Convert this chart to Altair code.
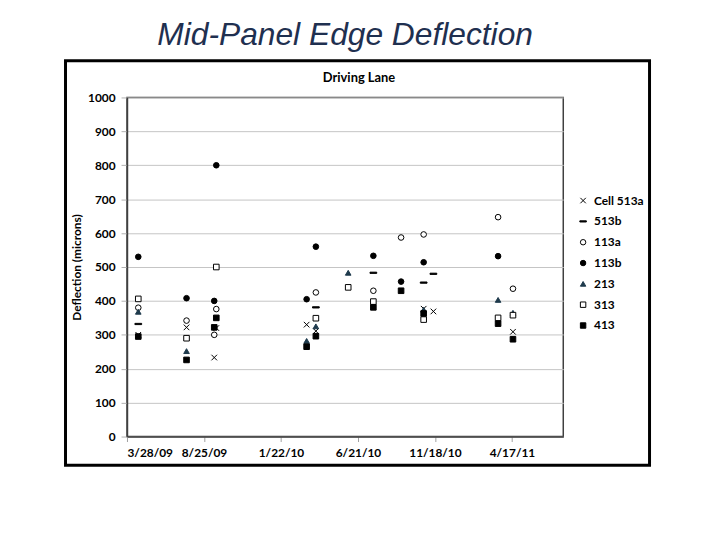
import altair as alt
import pandas as pd

# ---- data ----
series_names = ["Cell 513a", "513b", "113a", "113b", "213", "313", "413"]

s513a_dates = ["2009-04-19", "2009-07-22", "2009-09-18", "2009-09-14", "2010-03-13",
               "2010-03-31", "2010-10-27", "2010-11-15", "2011-04-19"]
s513a_vals = [300, 322, 320, 233, 330, 311, 377, 369, 309]

s513b_dates = ["2009-04-19", "2010-03-31", "2010-07-21", "2010-10-27", "2010-11-15"]
s513b_vals = [332, 381, 483, 454, 480]

s113a_dates = ["2009-04-19", "2009-07-22", "2009-09-18", "2009-09-14", "2010-03-31",
               "2010-07-21", "2010-09-13", "2010-10-27", "2011-03-21", "2011-04-19"]
s113a_vals = [380, 342, 376, 300, 425, 430, 587, 596, 647, 436]

s113b_dates = ["2009-04-19", "2009-07-22", "2009-09-18", "2009-09-14", "2010-03-13",
               "2010-03-31", "2010-07-21", "2010-09-13", "2010-10-27", "2011-03-21"]
s113b_vals = [530, 408, 800, 400, 405, 560, 533, 457, 514, 532]

s213_dates = ["2009-04-19", "2009-07-22", "2010-03-13", "2010-03-31", "2010-06-02",
              "2010-10-27", "2011-03-21", "2011-04-19"]
s213_vals = [368, 252, 282, 325, 483, 374, 403, 365]

s313_dates = ["2009-04-19", "2009-07-22", "2009-09-18", "2010-03-31", "2010-06-02",
              "2010-07-21", "2010-10-27", "2011-03-21", "2011-04-19"]
s313_vals = [406, 290, 500, 349, 440, 398, 345, 350, 358]

s413_dates = ["2009-04-19", "2009-07-22", "2009-09-18", "2009-09-14", "2010-03-13",
              "2010-03-31", "2010-07-21", "2010-09-13", "2010-10-27", "2011-03-21",
              "2011-04-19"]
s413_vals = [295, 226, 350, 322, 265, 296, 381, 430, 363, 333, 287]

x_tick_dates = ["2009-03-28", "2009-08-25", "2010-01-22", "2010-06-21", "2010-11-18", "2011-04-17"]
x_end_date = "2011-07-26"
y_ticks = list(range(0, 1001, 100))

# ---- build table (Excel serial day numbers on x) ----
EPOCH = pd.Timestamp("1899-12-30")


def serial(d):
    return (pd.Timestamp(d) - EPOCH).days


all_series = [
    ("Cell 513a", s513a_dates, s513a_vals),
    ("513b", s513b_dates, s513b_vals),
    ("113a", s113a_dates, s113a_vals),
    ("113b", s113b_dates, s113b_vals),
    ("213", s213_dates, s213_vals),
    ("313", s313_dates, s313_vals),
    ("413", s413_dates, s413_vals),
]
rows = []
for name, ds, vs in all_series:
    for d, v in zip(ds, vs):
        rows.append({"series": name, "day": serial(d), "value": v})
df = pd.DataFrame(rows)

x_ticks = [serial(d) for d in x_tick_dates]
x_domain = [x_ticks[0], serial(x_end_date)]

W, H = 440, 342
FONT = "Lato"

xmark = "M-1,-1L1,1M-1,1L1,-1"
dash = "M-1.2,-0.22L1.2,-0.22L1.2,0.22L-1.2,0.22Z"
shapes = [xmark, dash, "circle", "circle", "triangle-up", "square", "square"]
fills = ["transparent", "black", "white", "black", "#1e3a4c", "white", "black"]
strokes = ["black", "black", "black", "black", "#1e3a4c", "black", "black"]

leg = alt.Legend(title=None, orient="none", legendX=454, legendY=98, padding=0,
                 labelFont=FONT, labelFontWeight="bold", labelFontSize=12,
                 labelColor="black", rowPadding=9, symbolSize=30, labelOffset=5,
                 symbolStrokeWidth=1)

points = alt.Chart(df).mark_point(opacity=1, strokeWidth=1, size=32).encode(
    x=alt.X("day:Q",
            scale=alt.Scale(domain=x_domain, nice=False, zero=False),
            axis=alt.Axis(values=x_ticks, title=None, grid=False,
                          labelExpr="utcFormat((datum.value - 25569) * 86400000, '%-m/%-d/%y')",
                          labelFont=FONT, labelFontWeight="bold", labelFontSize=12,
                          labelColor="black", labelPadding=6, tickSize=5,
                          tickColor="#a0a0a0", domainColor="#404040", domainWidth=1.5)),
    y=alt.Y("value:Q",
            scale=alt.Scale(domain=[0, 1000], nice=False),
            axis=alt.Axis(values=y_ticks, title="Deflection (microns)", format="d",
                          titleFont=FONT, titleFontWeight="bold", titleFontSize=12,
                          titleColor="black", titleX=-44, titleY=H / 2,
                          labelFont=FONT, labelFontWeight="bold", labelFontSize=12,
                          labelColor="black", labelPadding=6, tickSize=6,
                          tickColor="#b0b0b0", gridColor="#c4c4c4",
                          domainColor="#404040", domainWidth=1.5)),
    shape=alt.Shape("series:N", scale=alt.Scale(domain=series_names, range=shapes),
                    legend=leg),
    fill=alt.Fill("series:N", scale=alt.Scale(domain=series_names, range=fills),
                  legend=leg),
    stroke=alt.Stroke("series:N", scale=alt.Scale(domain=series_names, range=strokes),
                      legend=leg),
)

one = alt.Data(values=[{}])

frame = alt.Chart(one).mark_rect(filled=False, stroke="black", strokeWidth=3).encode(
    x=alt.value(-62), x2=alt.value(527), y=alt.value(-37), y2=alt.value(371)
)

main_title = alt.Chart(one).mark_text(
    text="Mid-Panel Edge Deflection", font="Liberation Sans", fontSize=32,
    fontStyle="italic", color="#1F3050", align="center", baseline="alphabetic"
).encode(x=alt.value(220), y=alt.value(-53))

sub_title = alt.Chart(one).mark_text(
    text="Driving Lane", font=FONT, fontSize=13, fontWeight="bold",
    color="black", align="center", baseline="middle"
).encode(x=alt.value(234), y=alt.value(-20))

chart = alt.layer(frame, points, main_title, sub_title).properties(
    width=W, height=H,
    autosize=alt.AutoSizeParams(type="none"),
    padding={"left": 120, "top": 88, "right": 150, "bottom": 90},
    background="white",
).configure_view(
    stroke="#404040", strokeWidth=1.5
)

chart.save("out.html", embed_options={"renderer": "svg", "actions": False})
